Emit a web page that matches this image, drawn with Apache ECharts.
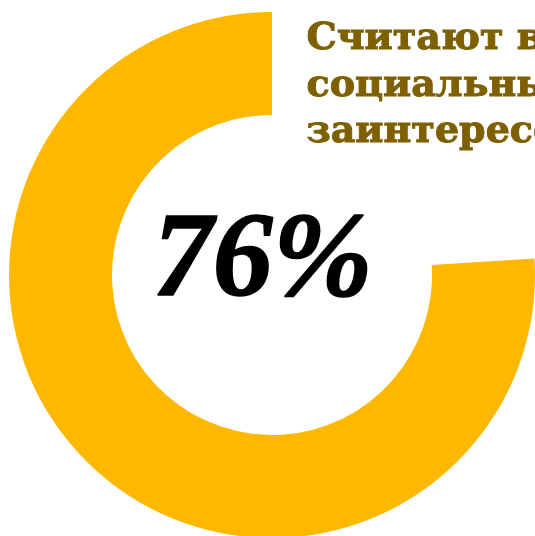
<!DOCTYPE html>
<html><head><meta charset="utf-8">
<script src="https://cdn.jsdelivr.net/npm/echarts@6/dist/echarts.min.js"></script>
<style>html,body{margin:0;padding:0;background:#fff}#c{width:535px;height:536px}</style>
</head><body><div id="c"></div>
<script>
const categories = ['Считают важным', 'Остальные'];
const values = [76, 24];
const centerLabel = '76%';
const titleLines = ['Считают важным', 'социальные сети', 'заинтересованность'];

const chart = echarts.init(document.getElementById('c'), null, {renderer: 'canvas'});
chart.setOption({
  animation: false,
  series: [{
    type: 'pie',
    center: [272, 275],
    radius: [160, 263],
    startAngle: 90,
    clockwise: false,
    label: {show: false},
    labelLine: {show: false},
    emphasis: {disabled: true},
    data: categories.map((c, i) => ({
      name: c, value: values[i],
      itemStyle: {color: i === 0 ? '#FFB800' : 'rgba(0,0,0,0)'}
    }))
  }],
  graphic: [
    {type: 'text', left: 152, top: 203, style: {text: centerLabel, font: 'italic bold 120px "Liberation Serif"', fill: '#000', stroke: '#000', lineWidth: 1.5}},
    {type: 'text', left: 306, top: 16, style: {text: titleLines.join('\n'), font: 'bold 38px "DejaVu Serif"', lineHeight: 46.5, fill: '#7F6000', stroke: '#7F6000', lineWidth: 1}}
  ]
});
</script></body></html>
